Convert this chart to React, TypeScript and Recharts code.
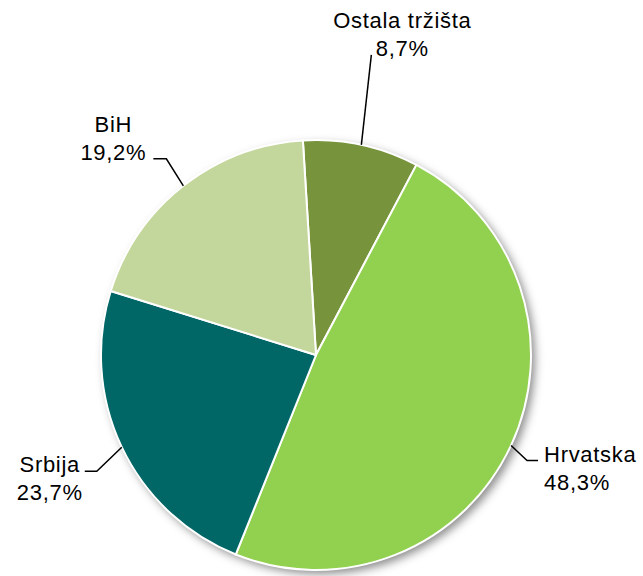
import React from 'react';
import { PieChart, Pie, Cell } from 'recharts';

const categories = ['Ostala tržišta', 'Hrvatska', 'Srbija', 'BiH'];
const shares = [8.7, 48.3, 23.7, 19.2];
const colors = ['#77933C', '#92D050', '#006666', '#C3D69B'];

const data = categories.map((name, i) => ({ name, value: shares[i] }));

// label layout offsets relative to the slice's outer mid point
const labelLayout = [
  { elbow: [10, -90], run: 0, anchor: 'middle', tx: 31, ty: -27 },
  { elbow: [16, 15], run: 11, anchor: 'start', tx: 6, ty: 2 },
  { elbow: [-25, 24], run: -12, anchor: 'middle', tx: -35, ty: 1 },
  { elbow: [-17, -27], run: -13, anchor: 'middle', tx: -40, ty: -27 },
];

const RAD = Math.PI / 180;

const renderLabel = (props: any) => {
  const { cx, cy, midAngle, outerRadius, index, name, value } = props;
  const ex = cx + outerRadius * Math.cos(-midAngle * RAD);
  const ey = cy + outerRadius * Math.sin(-midAngle * RAD);
  const L = labelLayout[index];
  const bx = ex + L.elbow[0];
  const by = ey + L.elbow[1];
  const px = bx + L.run;
  const py = by;
  const tx = px + L.tx;
  const ty = py + L.ty;
  const pct = `${Number(value).toFixed(1).replace('.', ',')}%`;
  return (
    <g key={`lbl-${index}`}>
      <polyline points={`${ex},${ey} ${bx},${by} ${px},${py}`} fill="none" stroke="#000" strokeWidth={1.5} />
      <text
        x={tx}
        y={ty}
        textAnchor={L.anchor}
        fill="#000"
        fontFamily="'Liberation Sans', Arial, sans-serif"
        fontSize={22}
        letterSpacing={0.7}
      >
        <tspan x={tx} dy={0}>{name}</tspan>
        <tspan x={tx} dy={28}>{pct}</tspan>
      </text>
    </g>
  );
};

export default function App() {
  return (
    <div style={{ position: 'absolute', left: 0, top: 0, width: 643, height: 576, background: '#fff' }}>
      <style>{`.shadow-pie { filter: blur(3px); }`}</style>
      <PieChart width={643} height={576} margin={{ top: 0, right: 0, bottom: 0, left: 0 }}>
        <Pie
          className="shadow-pie"
          data={data}
          dataKey="value"
          cx={320}
          cy={359}
          outerRadius={215}
          startAngle={93.5}
          endAngle={-266.5}
          isAnimationActive={false}
          stroke="none"
          label={false}
          labelLine={false}
        >
          {data.map((d, i) => (
            <Cell key={i} fill="rgba(0,0,0,0.45)" />
          ))}
        </Pie>
        <Pie
          data={data}
          dataKey="value"
          nameKey="name"
          cx={316}
          cy={355}
          outerRadius={215}
          startAngle={93.5}
          endAngle={-266.5}
          isAnimationActive={false}
          stroke="#fff"
          strokeWidth={2}
          label={renderLabel}
          labelLine={false}
        >
          {data.map((d, i) => (
            <Cell key={i} fill={colors[i]} />
          ))}
        </Pie>
      </PieChart>
    </div>
  );
}
